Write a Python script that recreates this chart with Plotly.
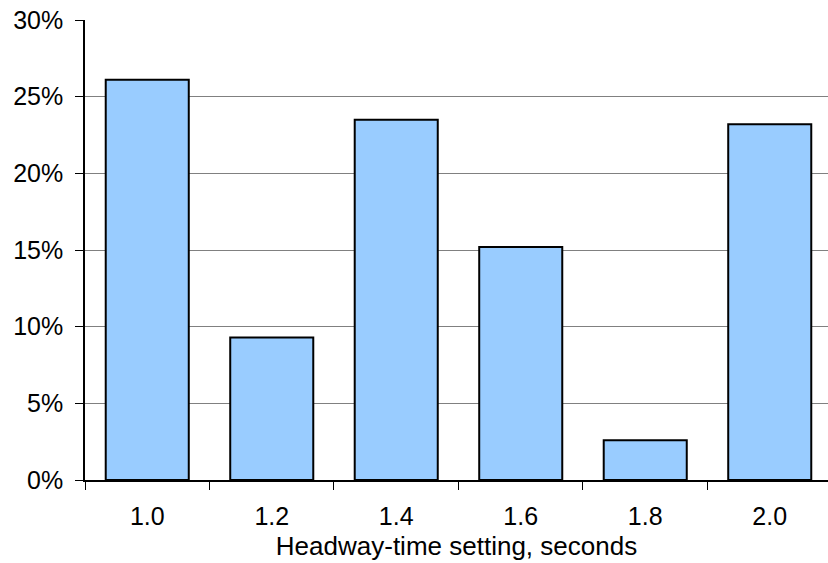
import plotly.graph_objects as go

categories = ["1.0", "1.2", "1.4", "1.6", "1.8", "2.0"]
values = [26.1, 9.3, 23.5, 15.2, 2.6, 23.2]
y_ticks = [0, 5, 10, 15, 20, 25, 30]
y_tick_labels = ["0%", "5%", "10%", "15%", "20%", "25%", "30%"]

FONT = "Liberation Sans, Arial"

fig = go.Figure(go.Bar(
    x=categories, y=values,
    marker=dict(color="#99CCFF", line=dict(color="black", width=2)),
))

fig.update_layout(
    width=828, height=563,
    margin=dict(l=85, r=0, t=20, b=83, autoexpand=False),
    paper_bgcolor="white", plot_bgcolor="white",
    font=dict(family=FONT, size=25, color="black"),
    bargap=0.333,
    showlegend=False,
)
fig.update_xaxes(
    type="category", range=[-0.5, 5.468], automargin=False,
    tickson="boundaries", ticks="outside", ticklen=8, tickcolor="black", tickwidth=1,
    showline=True, linecolor="black", linewidth=1.5,
    showgrid=False,
    tickfont=dict(size=25, family=FONT, color="black"),
    title=dict(text="Headway-time setting, seconds", standoff=8,
               font=dict(size=26, family=FONT, color="black")),
    ticklabelstandoff=13,
    ticklabeloverflow="allow",
)
fig.update_yaxes(
    range=[0, 30], tickvals=y_ticks, ticktext=y_tick_labels, automargin=False,
    ticks="outside", ticklen=8, tickcolor="black", tickwidth=1,
    showline=True, linecolor="black", linewidth=1.5,
    showgrid=True, gridcolor="#808080", gridwidth=1,
    zeroline=False,
    tickfont=dict(size=25, family=FONT, color="black"),
    ticklabelstandoff=7,
    ticklabeloverflow="allow",
)
fig.write_html("out.html", config={"displayModeBar": False},
               post_script="document.body.style.margin='0';")
